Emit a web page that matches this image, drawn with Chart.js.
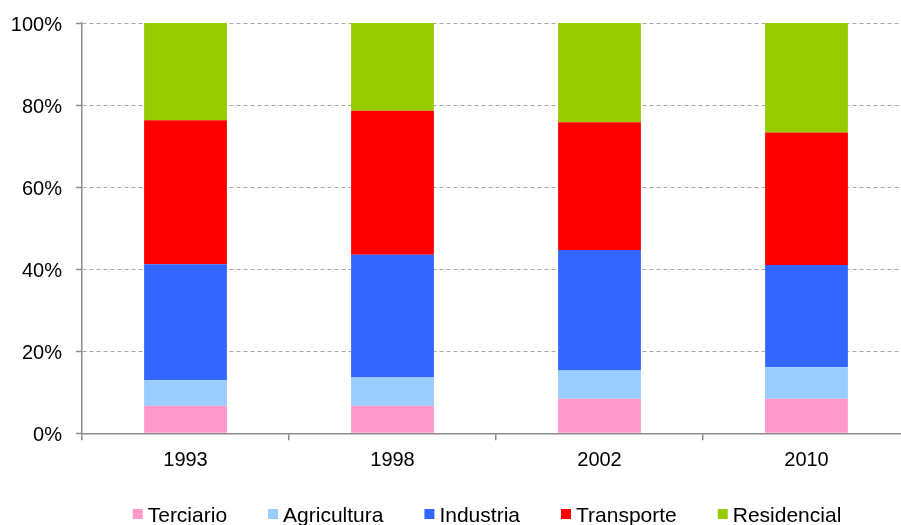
<!DOCTYPE html>
<html>
<head>
<meta charset="utf-8">
<title>Consumo por sector</title>
<script src="https://cdn.jsdelivr.net/npm/chart.js@4/dist/chart.umd.min.js"></script>
<style>
  html, body { margin: 0; padding: 0; background: #fff; overflow: hidden; }
  #wrap { width: 912px; height: 525px; }
</style>
</head>
<body>
<div id="wrap"><canvas id="sectorChart" width="912" height="525"></canvas></div>
<script>
// categories and shares (%) per sector, stacked bottom to top
const years = ['1993', '1998', '2002', '2010'];
const terciario   = [6.7, 6.7, 8.4, 8.4];
const agricultura = [6.2, 6.9, 6.9, 7.7];
const industria   = [28.3, 29.9, 29.4, 24.9];
const transporte  = [35.1, 35.1, 31.1, 32.3];
const residencial = [23.7, 21.4, 24.2, 26.7];
const yTicks = [0, 20, 40, 60, 80, 100];

const FONT = "'Liberation Sans', Arial, sans-serif";
const AXIS_GREY = '#8c8c8c';

function series(label, data, color) {
  return {
    label, data,
    backgroundColor: color,
    borderWidth: 0
  };
}

// small square + label legend, drawn under the axis
const bottomLegend = {
  id: 'bottomLegend',
  afterDraw(chart) {
    const ctx = chart.ctx;
    const box = 10, gap = 5, spacing = 41;
    ctx.save();
    ctx.font = '21px ' + FONT;
    const items = chart.data.datasets.map(ds => ({
      label: ds.label, color: ds.backgroundColor,
      w: box + gap + ctx.measureText(ds.label).width
    }));
    const total = items.reduce((s, it) => s + it.w, 0) + spacing * (items.length - 1);
    let x = 487 - total / 2;
    const baseline = 521.5;
    items.forEach(it => {
      ctx.fillStyle = it.color;
      ctx.fillRect(x, baseline - 12.5, box, box);
      ctx.fillStyle = '#000';
      ctx.textBaseline = 'alphabetic';
      ctx.textAlign = 'left';
      ctx.fillText(it.label, x + box + gap, baseline);
      x += it.w + spacing;
    });
    ctx.restore();
  }
};

new Chart(document.getElementById('sectorChart'), {
  type: 'bar',
  data: {
    labels: years,
    datasets: [
      series('Terciario', terciario, '#FF99CC'),
      series('Agricultura', agricultura, '#99CCFF'),
      series('Industria', industria, '#3366FF'),
      series('Transporte', transporte, '#FF0000'),
      series('Residencial', residencial, '#99CC00')
    ]
  },
  options: {
    responsive: false,
    animation: false,
    datasets: { bar: { categoryPercentage: 1, barPercentage: 0.4 } },
    layout: { padding: { top: 23, right: 2, left: 0, bottom: 0 } },
    plugins: {
      legend: { display: false },
      tooltip: { enabled: false }
    },
    scales: {
      x: {
        stacked: true,
        offset: true,
        afterFit: (scale) => { scale.height = 91.7; },
        grid: {
          offset: true,
          drawOnChartArea: false,
          drawTicks: true,
          tickLength: 7,
          color: AXIS_GREY,
          lineWidth: 1.5
        },
        border: { color: AXIS_GREY, width: 1.5 },
        ticks: { color: '#000', padding: 8, font: { family: FONT, size: 20 } }
      },
      y: {
        stacked: true,
        min: 0,
        max: 100,
        afterFit: (scale) => {
          scale.width = 82;
          scale.paddingTop = 0;
          scale.paddingBottom = 0;
        },
        afterBuildTicks: (scale) => { scale.ticks = yTicks.map(v => ({ value: v })); },
        grid: {
          color: '#a8a8a8',
          lineWidth: 1,
          tickLength: 6,
          tickColor: AXIS_GREY,
          tickBorderDash: [],
          tickWidth: 1.5
        },
        // in v4 the dash of the grid lines lives under border
        border: { color: AXIS_GREY, width: 1.5, dash: [4, 3] },
        ticks: {
          color: '#000',
          padding: 14,
          labelOffset: 2,
          font: { family: FONT, size: 20 },
          callback: (v) => v + '%'
        }
      }
    }
  },
  plugins: [bottomLegend]
});
</script>
</body>
</html>
